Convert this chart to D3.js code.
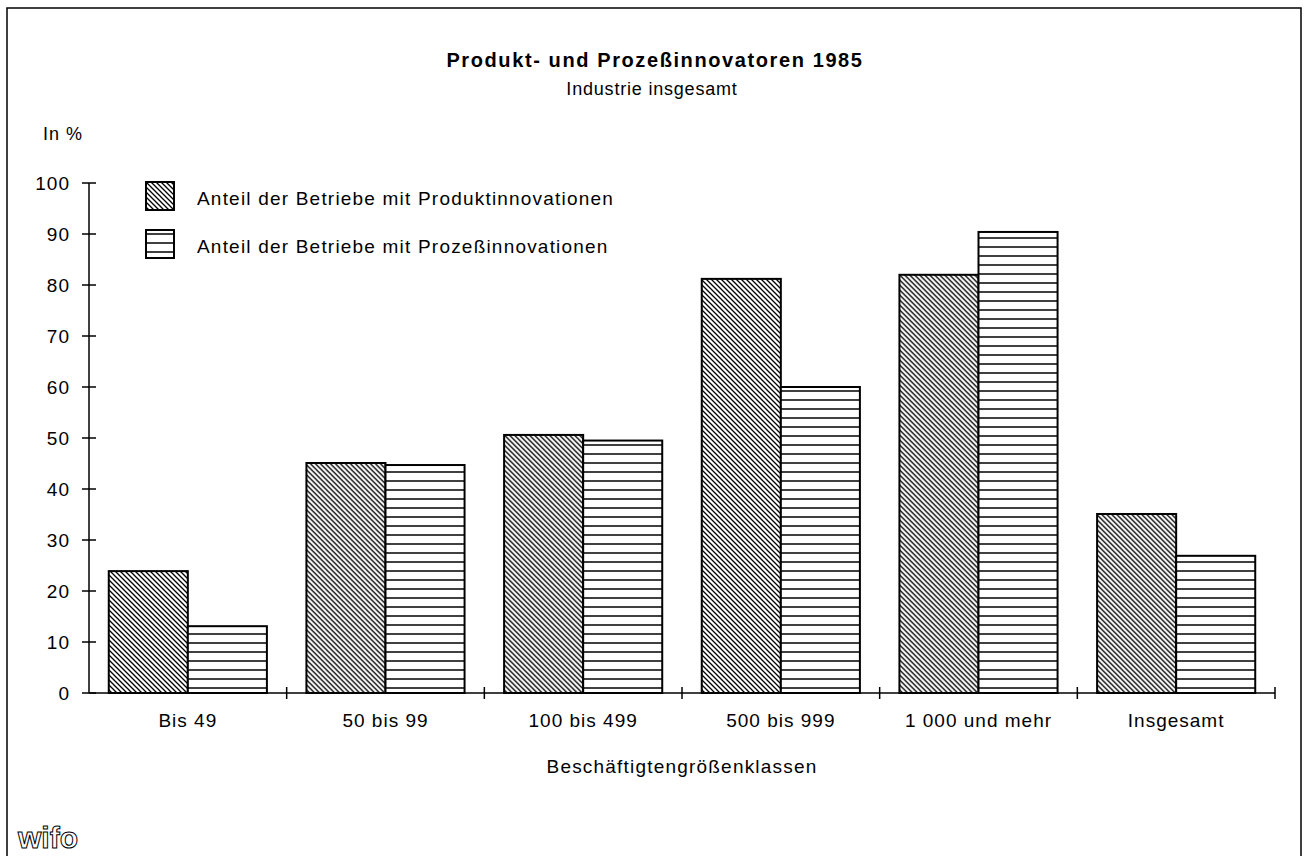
<!DOCTYPE html>
<html>
<head>
<meta charset="utf-8">
<script src="https://cdn.jsdelivr.net/npm/d3@7"></script>
<style>
  body { margin: 0; background: #fff; }
  text { font-family: "Liberation Sans", Arial, sans-serif; fill: #000; }
</style>
</head>
<body>
<div id="chart"></div>
<script>
// data
var categories = ['Bis 49', '50 bis 99', '100 bis 499', '500 bis 999', '1 000 und mehr', 'Insgesamt'];
var seriesNames = ['Anteil der Betriebe mit Produktinnovationen', 'Anteil der Betriebe mit Prozeßinnovationen'];
var produkt = [23.9, 45.1, 50.6, 81.2, 82.0, 35.1];
var prozess = [13.1, 44.7, 49.5, 60.0, 90.4, 26.9];
var yTicks = [0, 10, 20, 30, 40, 50, 60, 70, 80, 90, 100];

var width = 1304, height = 856;
var plotLeft = 89, plotRight = 1275, plotTop = 183, plotBottom = 693;

var svg = d3.select('#chart').append('svg')
    .attr('width', width)
    .attr('height', height);

var defs = svg.append('defs');
// diagonal hatch "\\\"
var diag = defs.append('pattern')
    .attr('id', 'diag')
    .attr('patternUnits', 'userSpaceOnUse')
    .attr('width', 5).attr('height', 5);
diag.append('rect').attr('width', 5).attr('height', 5).attr('fill', '#fff');
diag.append('path')
    .attr('d', 'M0,0L5,5M-1,4L1,6M4,-1L6,1')
    .attr('stroke', '#000').attr('stroke-width', 1.3);
// horizontal lines
var horiz = defs.append('pattern')
    .attr('id', 'horiz')
    .attr('patternUnits', 'userSpaceOnUse')
    .attr('width', 9).attr('height', 9);
horiz.append('rect').attr('width', 9).attr('height', 9).attr('fill', '#fff');
horiz.append('line')
    .attr('x1', 0).attr('x2', 9).attr('y1', 4).attr('y2', 4)
    .attr('stroke', '#000').attr('stroke-width', 1.5);

var fills = ['url(#diag)', 'url(#horiz)'];

// frame
svg.append('path')
    .attr('d', 'M7,' + height + 'V8H1301V' + height)
    .attr('fill', 'none').attr('stroke', '#000').attr('stroke-width', 1.5);

// titles
svg.append('text')
    .attr('x', 655).attr('y', 67)
    .attr('text-anchor', 'middle')
    .style('font-size', '20px').style('font-weight', 'bold').style('letter-spacing', '1.6px')
    .text('Produkt- und Prozeßinnovatoren 1985');
svg.append('text')
    .attr('x', 652).attr('y', 95)
    .attr('text-anchor', 'middle')
    .style('font-size', '18px').style('letter-spacing', '0.8px')
    .text('Industrie insgesamt');
svg.append('text')
    .attr('x', 43).attr('y', 140)
    .style('font-size', '18px').style('letter-spacing', '1px')
    .text('In %');

var x0 = d3.scaleBand().domain(categories).range([plotLeft, plotRight]).padding(0);
var x1 = d3.scaleBand().domain([0, 1]).range([0, x0.bandwidth()]).paddingInner(0).paddingOuter(0.25);
var y = d3.scaleLinear().domain([0, 100]).range([plotBottom, plotTop]);

// bars
var rows = categories.map(function (c, i) { return { cat: c, vals: [produkt[i], prozess[i]] }; });
var groups = svg.selectAll('g.cat')
    .data(rows)
    .enter()
    .append('g')
    .attr('class', 'cat')
    .attr('transform', function (d) { return 'translate(' + x0(d.cat) + ',0)'; });
groups.selectAll('rect')
    .data(function (d) { return d.vals; })
    .enter()
    .append('rect')
    .attr('x', function (d, i) { return x1(i); })
    .attr('y', function (d) { return y(d); })
    .attr('width', x1.bandwidth())
    .attr('height', function (d) { return y(0) - y(d); })
    .attr('fill', function (d, i) { return fills[i]; })
    .attr('stroke', '#000')
    .attr('stroke-width', 2);

// y axis
var yAxis = svg.append('g').attr('transform', 'translate(' + plotLeft + ',0)');
yAxis.append('line')
    .attr('y1', y(0)).attr('y2', y(100))
    .attr('stroke', '#000').attr('stroke-width', 1.5);
yAxis.selectAll('line.tick')
    .data(yTicks)
    .enter()
    .append('line')
    .attr('class', 'tick')
    .attr('x1', -7).attr('x2', 7)
    .attr('y1', function (d) { return y(d); })
    .attr('y2', function (d) { return y(d); })
    .attr('stroke', '#000').attr('stroke-width', 1.5);
yAxis.selectAll('text')
    .data(yTicks)
    .enter()
    .append('text')
    .attr('x', -19)
    .attr('y', function (d) { return y(d); })
    .attr('dy', '0.36em')
    .attr('text-anchor', 'end')
    .style('font-size', '19px').style('letter-spacing', '1px')
    .text(function (d) { return d; });

// x axis
var xAxis = svg.append('g');
xAxis.append('line')
    .attr('x1', plotLeft).attr('x2', plotRight)
    .attr('y1', y(0)).attr('y2', y(0))
    .attr('stroke', '#000').attr('stroke-width', 1.5);
xAxis.selectAll('line.tick')
    .data(categories)
    .enter()
    .append('line')
    .attr('class', 'tick')
    .attr('x1', function (d) { return x0(d) + x0.bandwidth(); })
    .attr('x2', function (d) { return x0(d) + x0.bandwidth(); })
    .attr('y1', y(0) - 6).attr('y2', y(0) + 6)
    .attr('stroke', '#000').attr('stroke-width', 1.5);
xAxis.selectAll('text')
    .data(categories)
    .enter()
    .append('text')
    .attr('x', function (d) { return x0(d) + x0.bandwidth() / 2; })
    .attr('y', 727)
    .attr('text-anchor', 'middle')
    .style('font-size', '19px').style('letter-spacing', '1px')
    .text(function (d) { return d; });
svg.append('text')
    .attr('x', (plotLeft + plotRight) / 2).attr('y', 773)
    .attr('text-anchor', 'middle')
    .style('font-size', '19px').style('letter-spacing', '1.2px')
    .text('Beschäftigtengrößenklassen');

// legend
var legend = svg.selectAll('g.legend')
    .data(seriesNames)
    .enter()
    .append('g')
    .attr('class', 'legend')
    .attr('transform', function (d, i) { return 'translate(146,' + (182 + i * 48) + ')'; });
legend.append('rect')
    .attr('width', 28).attr('height', 28)
    .attr('fill', function (d, i) { return fills[i]; })
    .attr('stroke', '#000').attr('stroke-width', 2);
legend.append('text')
    .attr('x', 51).attr('y', 23)
    .style('font-size', '19px').style('letter-spacing', '1.2px')
    .text(function (d) { return d; });

// wifo mark
svg.append('text')
    .attr('x', 18).attr('y', 848)
    .style('font-size', '30px').style('font-weight', 'bold')
    .style('fill', '#fff').attr('stroke', '#000').attr('stroke-width', 1)
    .text('wifo');
</script>
</body>
</html>
